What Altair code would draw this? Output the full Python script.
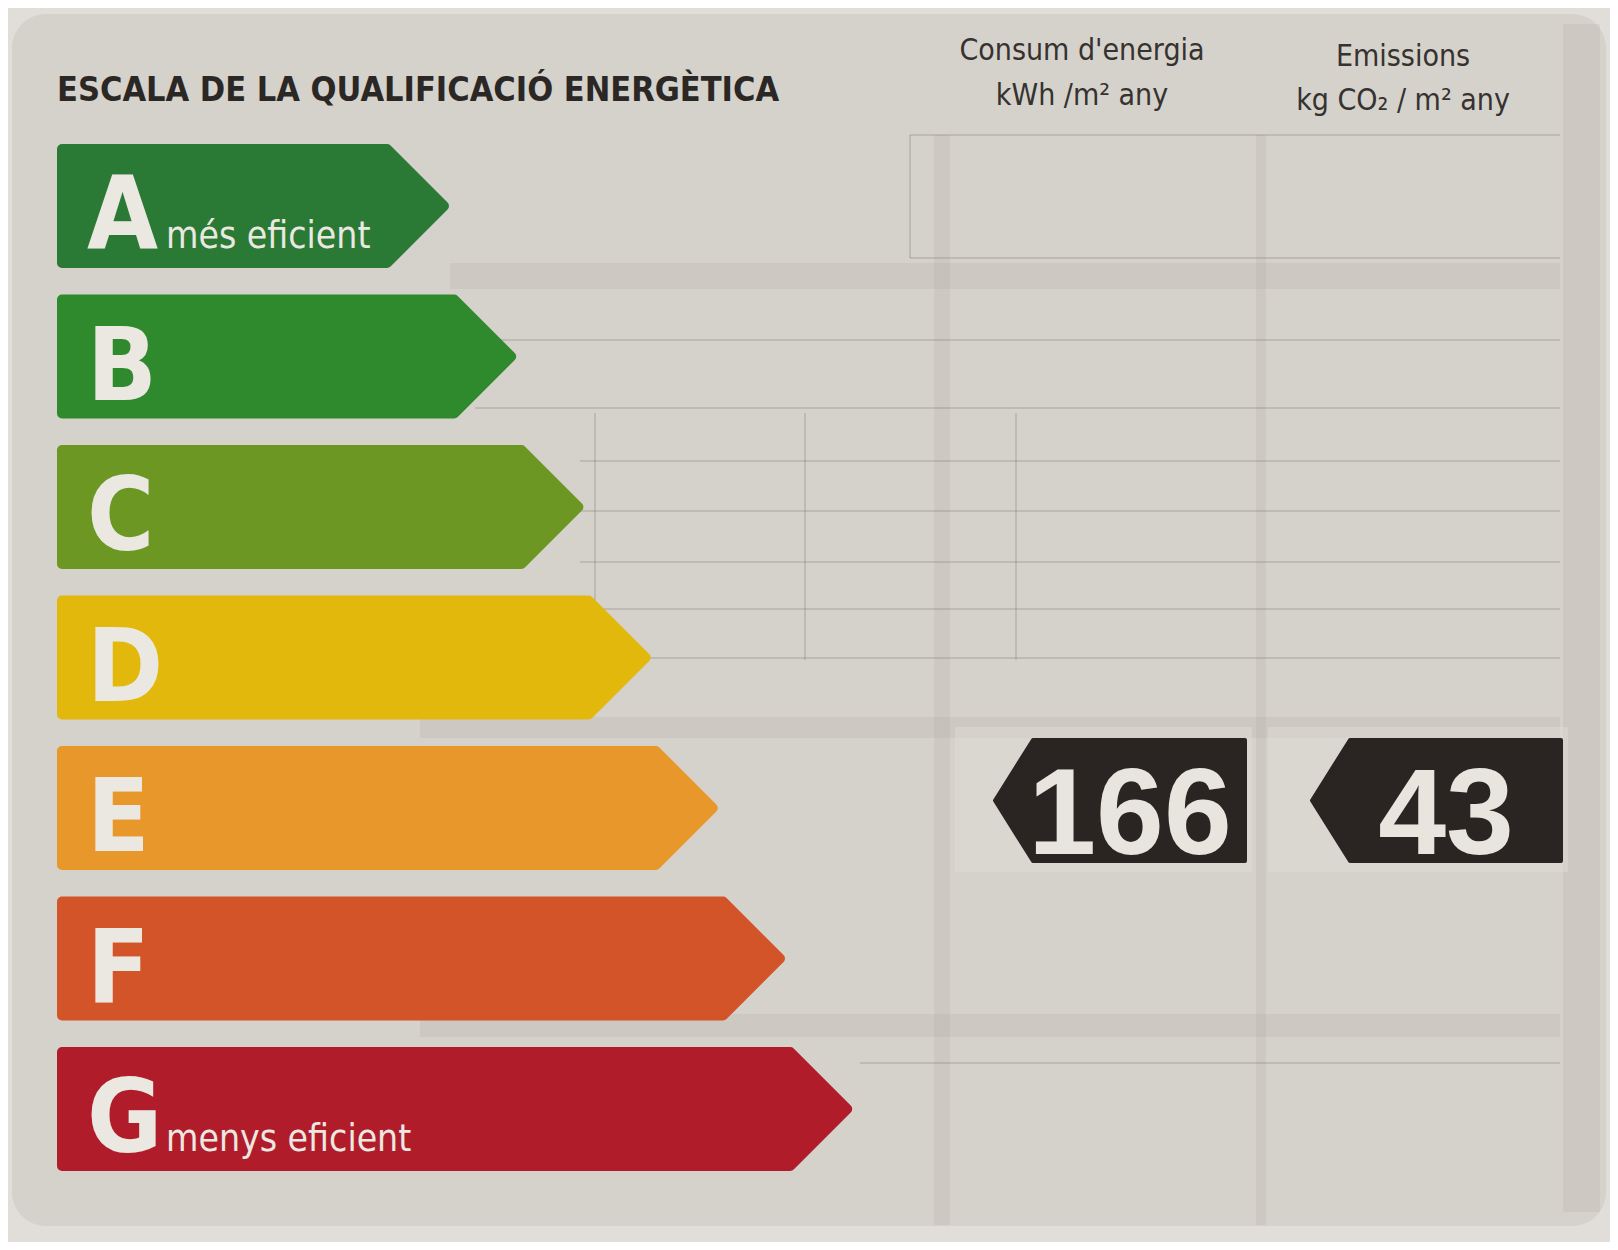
import altair as alt
import pandas as pd

# ---------------- data ----------------
classes = ["A", "B", "C", "D", "E", "F", "G"]
class_notes = ["més eficient", "", "", "", "", "", "menys eficient"]
class_colors = ["#2a7a36", "#2f8a2d", "#6c9723", "#e2b80c", "#e8972b", "#d4542a", "#b11c2b"]
title_text = "ESCALA DE LA QUALIFICACIÓ ENERGÈTICA"
indicator_names = ["Consum d'energia", "Emissions"]
indicator_units = ["kWh /m² any", "kg CO₂ / m² any"]
indicator_values = [166, 43]
indicator_class = ["E", "E"]

# ---------------- layout (page pixels) ----------------
W, H, OFF = 1602, 1234, 8
ROW_TOP0, ROW_PITCH, ROW_H = 144, 150.5, 124
BAR_LEFT = 57
TIP0, TIP_STEP = 449, 67.2
R = 5
COL_TIP = [993, 1310]
COL_FLAT = 40
COL_RIGHT = [1247, 1563]
COL_TEXT = [1130, 1446]
COL_HEAD = [1082, 1403]
HEAD_BASE = [60, 66]
UNIT_BASE = [105, 110]

COND = "DejaVu Sans Condensed, sans-serif"
LIGHT = "#ebe8e2"

xs = alt.Scale(domain=[OFF, OFF + W], nice=False, zero=False)
ys = alt.Scale(domain=[OFF, OFF + H], reverse=True, nice=False, zero=False)


def X(f="x"):
    return alt.X(f"{f}:Q", scale=xs, axis=None)


def Y(f="y"):
    return alt.Y(f"{f}:Q", scale=ys, axis=None)


def row_top(i):
    return ROW_TOP0 + ROW_PITCH * i


# ---------------- background ----------------
panel = pd.DataFrame([dict(x=12, x2=1606, y=14, y2=1226)])
panel_layer = alt.Chart(panel).mark_rect(color="#d5d1cb", cornerRadius=34).encode(
    x=X(), x2="x2:Q", y=Y(), y2="y2:Q")

bands = pd.DataFrame([
    dict(x=450, x2=1560, y=263, y2=289),
    dict(x=420, x2=1560, y=717, y2=738),
    dict(x=420, x2=1560, y=1014, y2=1037),
    dict(x=1563, x2=1600, y=24, y2=1212),
    dict(x=934, x2=950, y=135, y2=1225),
    dict(x=1256, x2=1266, y=135, y2=1225),
])
bands_layer = alt.Chart(bands).mark_rect(color="#9b958e", opacity=0.13).encode(
    x=X(), x2="x2:Q", y=Y(), y2="y2:Q")

light = pd.DataFrame([
    dict(x=955, x2=1252, y=727, y2=872),
    dict(x=1268, x2=1568, y=727, y2=872),
])
light_layer = alt.Chart(light).mark_rect(color="#e6e3de", opacity=0.35).encode(
    x=X(), x2="x2:Q", y=Y(), y2="y2:Q")

ghost = pd.DataFrame([
    dict(x=595, x2=595, y=413, y2=660),
    dict(x=805, x2=805, y=413, y2=660),
    dict(x=1016, x2=1016, y=413, y2=660),
    dict(x=910, x2=910, y=135, y2=258),
    dict(x=910, x2=1560, y=135, y2=135),
    dict(x=910, x2=1560, y=258, y2=258),
    dict(x=475, x2=1560, y=340, y2=340),
    dict(x=475, x2=1560, y=408, y2=408),
    dict(x=580, x2=1560, y=461, y2=461),
    dict(x=580, x2=1560, y=511, y2=511),
    dict(x=580, x2=1560, y=562, y2=562),
    dict(x=580, x2=1560, y=609, y2=609),
    dict(x=580, x2=1560, y=658, y2=658),
    dict(x=860, x2=1560, y=1063, y2=1063),
])
ghost_layer = alt.Chart(ghost).mark_rule(color="#7d7871", opacity=0.25, strokeWidth=2).encode(
    x=X(), x2="x2:Q", y=Y(), y2="y2:Q")

# ---------------- arrows ----------------
rows = []
for i, c in enumerate(classes):
    top = row_top(i) + R
    bot = row_top(i) + ROW_H - R
    mid = (top + bot) / 2
    tip = TIP0 + TIP_STEP * i - R
    half = (bot - top) / 2
    rows += [dict(cls=c, x=BAR_LEFT + R, y=top, y2=bot),
             dict(cls=c, x=tip - half, y=top, y2=bot),
             dict(cls=c, x=tip, y=mid, y2=mid)]
arrows = pd.DataFrame(rows)
cscale = alt.Scale(domain=classes, range=class_colors)
arrow_layer = alt.Chart(arrows).mark_area(
    strokeWidth=2 * R, strokeJoin="round", interpolate="linear", opacity=1, orient="vertical"
).encode(
    x=X(), y=Y(), y2="y2:Q",
    color=alt.Color("cls:N", scale=cscale, legend=None),
    stroke=alt.Stroke("cls:N", scale=cscale, legend=None),
    detail="cls:N")

letters = pd.DataFrame([
    dict(x=BAR_LEFT + 30, y=row_top(i) + ROW_H - 19, t=c) for i, c in enumerate(classes)])
letter_layer = alt.Chart(letters).mark_text(
    font=COND, fontWeight="bold", fontSize=102, align="left", baseline="alphabetic",
    color=LIGHT).encode(x=X(), y=Y(), text="t:N")

notes = pd.DataFrame([
    dict(x=BAR_LEFT + 109, y=row_top(i) + ROW_H - 20, t=n)
    for i, n in enumerate(class_notes) if n])
notes_layer = alt.Chart(notes).mark_text(
    font=COND, fontSize=37, align="left", baseline="alphabetic",
    color=LIGHT).encode(x=X(), y=Y(), text="t:N")

# ---------------- title & headers ----------------
title_df = pd.DataFrame([dict(x=57, y=101, t=title_text)])
title_layer = alt.Chart(title_df).mark_text(
    font=COND, fontWeight="bold", fontSize=34, align="left", baseline="alphabetic",
    color="#2a2725").encode(x=X(), y=Y(), text="t:N")

heads = pd.DataFrame(
    [dict(x=COL_HEAD[k], y=HEAD_BASE[k], t=indicator_names[k]) for k in range(2)] +
    [dict(x=COL_HEAD[k], y=UNIT_BASE[k], t=indicator_units[k]) for k in range(2)])
head_layer = alt.Chart(heads).mark_text(
    font=COND, fontSize=30, align="center", baseline="alphabetic",
    color="#353230").encode(x=X(), y=Y(), text="t:N")

# ---------------- value badges ----------------
brows = []
for k in range(2):
    i = classes.index(indicator_class[k])
    top = row_top(i) - 8 + 2
    bot = row_top(i) - 8 + 125 - 2
    mid = (top + bot) / 2
    tip = COL_TIP[k] + 2
    brows += [dict(b=k, x=tip, y=mid, y2=mid),
              dict(b=k, x=COL_TIP[k] + COL_FLAT, y=top, y2=bot),
              dict(b=k, x=COL_RIGHT[k] - 2, y=top, y2=bot)]
badges = pd.DataFrame(brows)
badge_layer = alt.Chart(badges).mark_area(
    color="#2a2422", stroke="#2a2422", strokeWidth=4, strokeJoin="round",
    interpolate="linear", orient="vertical").encode(x=X(), y=Y(), y2="y2:Q", detail="b:N")

vals = pd.DataFrame([
    dict(x=COL_TEXT[k], y=row_top(classes.index(indicator_class[k])) + 108,
         t=str(indicator_values[k])) for k in range(2)])
val_layer = alt.Chart(vals).mark_text(
    font="Liberation Sans, Arial, sans-serif", fontWeight="bold", fontSize=122,
    align="center", baseline="alphabetic",
    color="#e8e5df").encode(x=X(), y=Y(), text="t:N")

chart = alt.layer(
    panel_layer, bands_layer, light_layer, ghost_layer,
    arrow_layer, letter_layer, notes_layer,
    title_layer, head_layer, badge_layer, val_layer
).properties(
    width=W, height=H, padding=0, autosize=alt.AutoSizeParams(type="none"),
    background="#e1ded9"
).configure_view(strokeWidth=0)

chart.save("out.html", embed_options={"renderer": "svg", "actions": False})
